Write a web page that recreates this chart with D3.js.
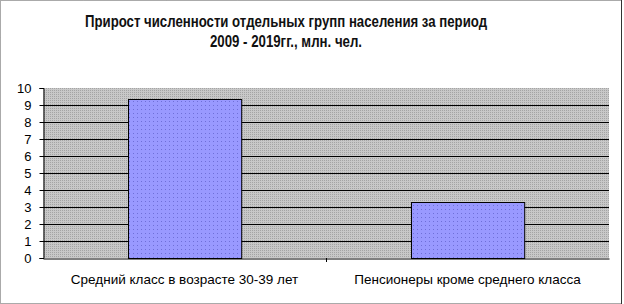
<!DOCTYPE html>
<html><head><meta charset="utf-8">
<script src="https://cdn.jsdelivr.net/npm/d3@7"></script>
<style>body{margin:0;background:#fff}svg{display:block}text{font-family:Arial,"Liberation Sans",sans-serif}</style>
</head><body>
<svg id="c" width="624" height="304"></svg>
<script>
const categories = ["Средний класс в возрасте 30-39 лет", "Пенсионеры кроме среднего класса"];
const values = [9.35, 3.3];
const yTicks = [0,1,2,3,4,5,6,7,8,9,10];
const titleLines = ["Прирост численности отдельных групп населения за период", "2009 - 2019гг., млн. чел."];

const svg = d3.select("#c");
const defs = svg.append("defs");
const gp = defs.append("pattern").attr("id","gray").attr("width",2).attr("height",2).attr("patternUnits","userSpaceOnUse");
gp.append("rect").attr("width",2).attr("height",2).attr("fill","#c8c8c8");
gp.append("rect").attr("width",1).attr("height",1).attr("fill","#a4a4a4");
const bp = defs.append("pattern").attr("id","blue").attr("width",4).attr("height",4).attr("patternUnits","userSpaceOnUse");
bp.append("rect").attr("width",4).attr("height",4).attr("fill","#9999ff");
bp.append("rect").attr("x",1).attr("y",1).attr("width",1).attr("height",1).attr("fill","#6f6fd8");

// outer border
svg.append("rect").attr("x",0.5).attr("y",0.5).attr("width",621).attr("height",303)
  .attr("fill","none").attr("stroke","#555").attr("stroke-dasharray","1,1");
svg.append("line").attr("x1",621.5).attr("x2",621.5).attr("y1",0).attr("y2",304).attr("stroke","#333");

const m = {l:43, r:609, t:88, b:258};
const x = d3.scaleBand().domain(categories).range([m.l, m.r]).paddingInner(0.6).paddingOuter(0.3);
const xc = d3.scaleBand().domain(categories).range([m.l, m.r]).padding(0);
const y = d3.scaleLinear().domain([0,10]).range([m.b, m.t]);

svg.append("rect").attr("x",m.l).attr("y",m.t).attr("width",m.r-m.l).attr("height",m.b-m.t).attr("fill","url(#gray)");

svg.append("g").selectAll("line").data(yTicks.filter(d=>d>0 && d<10)).join("line")
  .attr("x1",m.l).attr("x2",m.r).attr("y1",d=>Math.round(y(d))+0.5).attr("y2",d=>Math.round(y(d))+0.5)
  .attr("stroke","#000").attr("stroke-width",1);

svg.append("g").selectAll("rect").data(values).join("rect")
  .attr("x",(d,i)=>Math.round(x(categories[i]))+0.5).attr("width",x.bandwidth())
  .attr("y",d=>Math.round(y(d))+0.5).attr("height",d=>m.b-Math.round(y(d)))
  .attr("fill","url(#blue)").attr("stroke","#000").attr("stroke-width",1);

// y axis
const ya = svg.append("g").attr("transform",`translate(${m.l+0.5},0)`)
  .call(d3.axisLeft(y).tickValues(yTicks).tickSize(4).tickPadding(8).tickFormat(d3.format("d")));
ya.select(".domain").attr("stroke","#000");
ya.selectAll("line").attr("stroke","#000");
ya.selectAll("text").attr("font-size",13).attr("fill","#000").attr("font-family","Arial, 'Liberation Sans', sans-serif");

// x axis
const xa = svg.append("g").attr("transform",`translate(0,${m.b+0.5})`)
  .call(d3.axisBottom(xc).tickSize(0).tickPadding(16));
xa.select(".domain").attr("stroke","#000");
xa.selectAll("text").attr("font-size",13.5).attr("fill","#000").attr("font-family","Arial, 'Liberation Sans', sans-serif");
svg.append("line").attr("x1",m.l+283+0.5).attr("x2",m.l+283+0.5).attr("y1",m.b).attr("y2",m.b+4).attr("stroke","#000");

const titleW = [402, 152];
svg.append("text").attr("text-anchor","middle").attr("font-size",16).attr("font-weight","bold").attr("fill","#111")
  .selectAll("tspan").data(titleLines).join("tspan")
  .attr("x",286).attr("y",(d,i)=>27+i*20)
  .attr("textLength",(d,i)=>titleW[i]).attr("lengthAdjust","spacingAndGlyphs").text(d=>d);
</script>
</body></html>
